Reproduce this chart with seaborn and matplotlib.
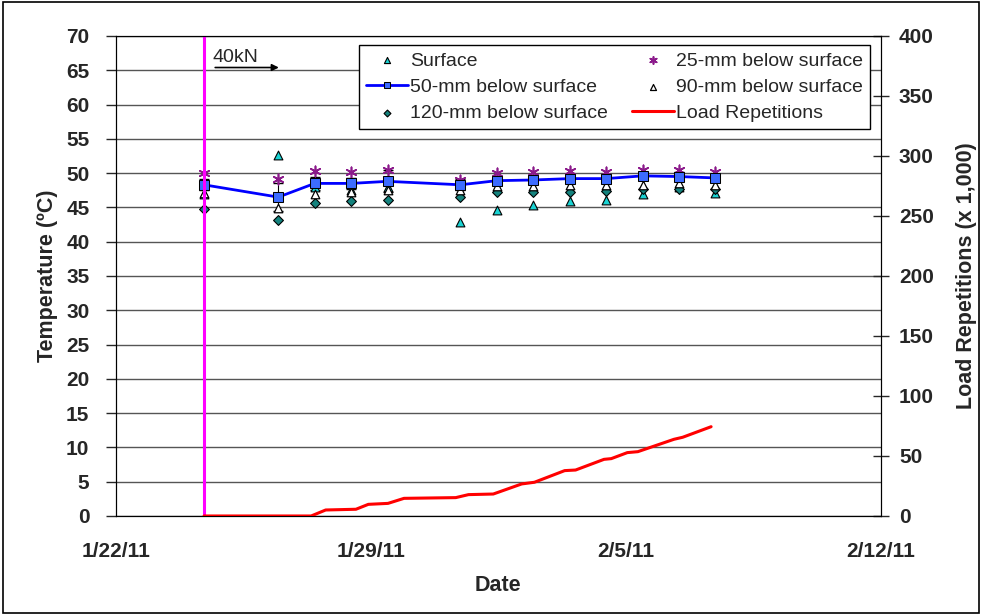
import pandas as pd
import numpy as np
import matplotlib
matplotlib.use("Agg")
import matplotlib.pyplot as plt
import matplotlib.dates as mdates
from matplotlib.ticker import FuncFormatter, MultipleLocator
from matplotlib.patches import Rectangle
import seaborn as sns

# temperature readings (one per day, late morning)
temp_dates = ["2011-01-24 10:00", "2011-01-26 11:00", "2011-01-27 11:00", "2011-01-28 11:00",
              "2011-01-29 11:00", "2011-01-31 11:00", "2011-02-01 11:00", "2011-02-02 11:00",
              "2011-02-03 11:00", "2011-02-04 11:00", "2011-02-05 11:00", "2011-02-06 11:00",
              "2011-02-07 11:00"]
surface = [47.0, 52.7, 48.0, 47.5, 48.0, 42.8, 44.6, 45.4, 45.9, 46.1, 46.9, 48.0, 47.1]
mm25 = [50.0, 49.1, 50.3, 50.2, 50.4, 49.0, 50.0, 50.1, 50.3, 50.2, 50.5, 50.4, 50.2]
mm50 = [48.3, 46.5, 48.5, 48.5, 48.8, 48.3, 48.9, 49.0, 49.2, 49.2, 49.6, 49.5, 49.3]
mm50_err = [0.8, 2.0, 1.0, 0.8, 1.6, 0.8, 0.7, 0.6, 0.6, 0.6, 0.6, 0.6, 0.6]
mm90 = [47.1, 44.9, 47.0, 47.2, 47.6, 47.6, 48.1, 48.1, 48.2, 48.2, 48.3, 48.6, 48.3]
mm120 = [44.7, 43.2, 45.6, 46.0, 46.1, 46.5, 47.2, 47.2, 47.2, 47.4, 47.7, 47.7, 47.7]

# load repetitions (thousands), days after 1/22/11
load_days = [2.42, 5.36, 5.76, 6.59, 6.93, 7.47, 7.91, 9.33, 9.68, 10.36, 11.14, 11.49,
             12.32, 12.62, 13.40, 13.60, 14.04, 14.33, 15.32, 15.56, 16.34]
load_reps = [0, 0, 5.0, 5.6, 9.7, 10.5, 14.7, 15.3, 17.8, 18.3, 26.7, 28.1,
             37.8, 38.3, 47.2, 47.8, 52.8, 53.6, 63.9, 65.6, 74.4]

start = pd.Timestamp("2011-01-22")
load_start = start + pd.Timedelta(days=2.42)
x_ticks = pd.date_range("2011-01-22", "2011-02-12", freq="7D")

temps = pd.DataFrame({"date": pd.to_datetime(temp_dates), "Surface": surface,
                      "25-mm below surface": mm25, "50-mm below surface": mm50,
                      "90-mm below surface": mm90, "120-mm below surface": mm120})
load = pd.DataFrame({"date": [start + pd.Timedelta(days=d) for d in load_days],
                     "reps": load_reps})

sns.set_style("white")
plt.rcParams["font.family"] = ["Liberation Sans", "DejaVu Sans"]

fig = plt.figure(figsize=(9.82, 6.15), dpi=100)
ax = fig.add_axes([0.118, 0.161, 0.779, 0.7805])
ax2 = ax.twinx()

ax.errorbar(temps["date"], temps["50-mm below surface"], yerr=mm50_err, fmt="none",
            ecolor="black", elinewidth=0.8, capsize=3.5, zorder=3)
sns.scatterplot(data=temps, x="date", y="Surface", ax=ax, marker="^", s=40,
                color="#19d3d3", edgecolor="black", linewidth=0.8, zorder=4, label="Surface")
sns.lineplot(data=temps, x="date", y="50-mm below surface", ax=ax, color="#0000ff", lw=2,
             marker="s", markersize=6.5, markerfacecolor="#3d6cff", markeredgecolor="black",
             zorder=6, label="50-mm below surface")
sns.scatterplot(data=temps, x="date", y="120-mm below surface", ax=ax, marker="D", s=25,
                color="#14827d", edgecolor="black", linewidth=0.8, zorder=4,
                label="120-mm below surface")
sns.scatterplot(data=temps, x="date", y="25-mm below surface", ax=ax, marker=(6, 2, 0), s=55,
                color="#8b1a8b", linewidth=1.2, zorder=5, label="25-mm below surface")
sns.scatterplot(data=temps, x="date", y="90-mm below surface", ax=ax, marker="^", s=38,
                color="white", edgecolor="black", linewidth=0.9, zorder=5,
                label="90-mm below surface")
sns.lineplot(data=load, x="date", y="reps", ax=ax2, color="#ff0000", lw=2.2, zorder=5,
             label="Load Repetitions")

ax.axvline(load_start, color="#ff00ff", lw=2.2, zorder=7)
ax.annotate("", xy=(start + pd.Timedelta(days=4.55), 65.4),
            xytext=(start + pd.Timedelta(days=2.65), 65.4),
            arrowprops=dict(arrowstyle="-|>", color="black", lw=1.2))
ax.text(start + pd.Timedelta(days=2.65), 66.2, "40kN", fontsize=14, va="baseline")

ax.set_xlim(x_ticks[0], x_ticks[-1])
ax.set_ylim(0, 70)
ax2.set_ylim(0, 400)
ax.set_xticks(x_ticks)
ax.xaxis.set_major_formatter(FuncFormatter(
    lambda v, p: (lambda d: f"{d.month}/{d.day}/{d:%y}")(mdates.num2date(v))))
ax.yaxis.set_major_locator(MultipleLocator(5))
ax2.yaxis.set_major_locator(MultipleLocator(50))
ax.grid(axis="y", color="#555555", lw=1)
ax.set_axisbelow(True)

for a in (ax, ax2):
    a.tick_params(labelsize=15, width=1)
    for lab in a.get_xticklabels() + a.get_yticklabels():
        lab.set_fontweight("bold")
    for s in a.spines.values():
        s.set_color("black")
ax.tick_params(axis="y", direction="out", length=7, pad=12)
ax.tick_params(axis="x", direction="inout", length=10, pad=14)
ax2.tick_params(axis="y", direction="inout", length=12, pad=7)

ax.set_xlabel("Date", fontsize=15.5, fontweight="bold", labelpad=10)
ax.set_ylabel("Temperature (ºC)", fontsize=15.5, fontweight="bold", labelpad=6)
ax2.set_ylabel("Load Repetitions (x 1,000)", fontsize=15.5, fontweight="bold", labelpad=16)

h1, l1 = ax.get_legend_handles_labels()
h2, l2 = ax2.get_legend_handles_labels()
if ax2.get_legend():
    ax2.get_legend().remove()
if ax.get_legend():
    ax.get_legend().remove()
handles = dict(zip(l1 + l2, h1 + h2))
order = ["Surface", "50-mm below surface", "120-mm below surface",
         "25-mm below surface", "90-mm below surface", "Load Repetitions"]
leg = ax2.legend([handles[k] for k in order], order, ncol=2, loc="upper right",
                 bbox_to_anchor=(0.986, 0.981), borderaxespad=0, fontsize=14, frameon=True,
                 fancybox=False, edgecolor="black", framealpha=1, borderpad=0.35,
                 labelspacing=0.45, handlelength=2.2, handletextpad=0.1, columnspacing=1.2,
                 markerscale=0.7)
leg.get_frame().set_linewidth(1)
leg.set_zorder(20)

fig.patches.append(Rectangle((0.003, 0.004), 0.994, 0.992, transform=fig.transFigure,
                             fill=False, edgecolor="black", lw=1.2))

fig.savefig("out.png", dpi=100)
